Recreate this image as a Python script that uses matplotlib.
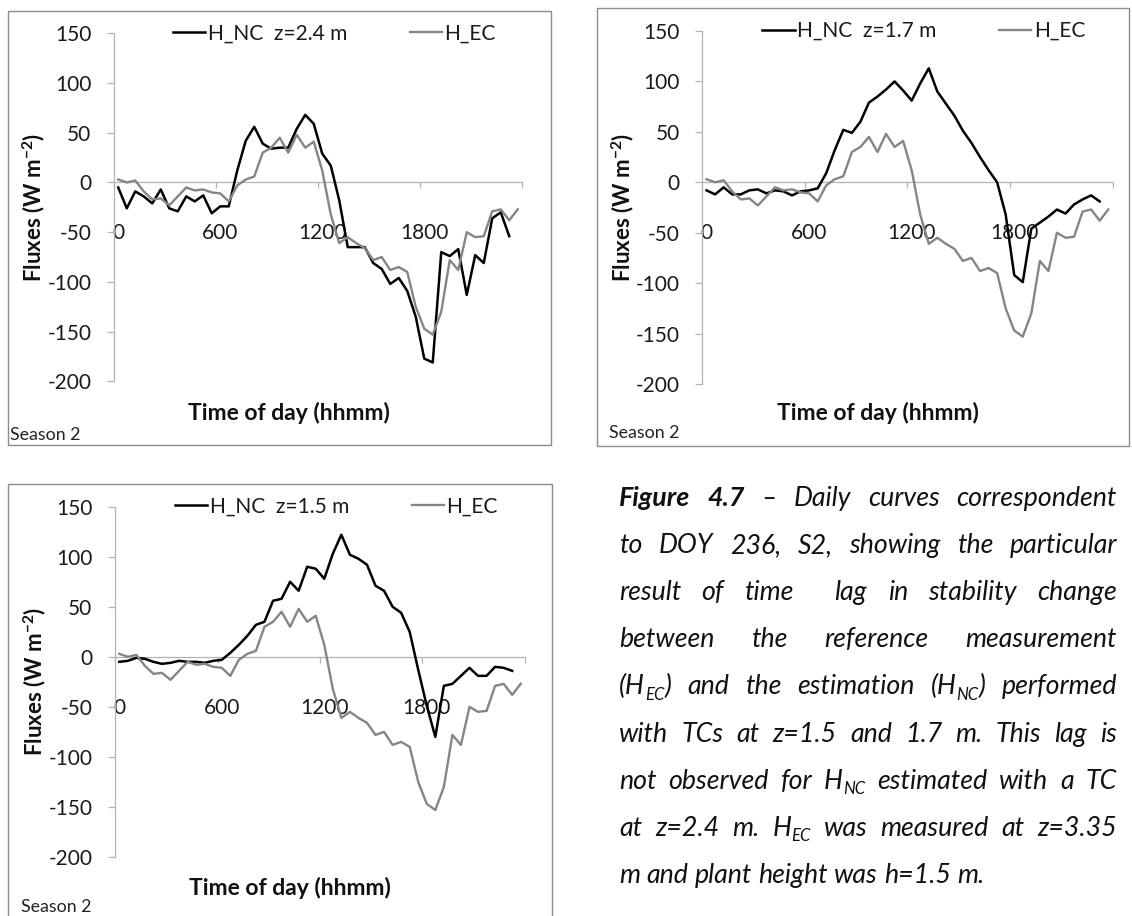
import re
import numpy as np
import matplotlib
matplotlib.use('Agg')
import matplotlib.pyplot as plt
from matplotlib.patches import Rectangle

plt.rcParams['font.family'] = ['Lato', 'DejaVu Sans']
plt.rcParams['mathtext.fontset'] = 'custom'
plt.rcParams['mathtext.rm'] = 'Lato'
plt.rcParams['mathtext.bf'] = 'Lato:bold'
plt.rcParams['mathtext.it'] = 'Lato:italic'
plt.rcParams['axes.unicode_minus'] = False

W, H = 1132, 916

# half-hourly time stamps (hhmm), DOY 236
hhmm = [0, 30, 100, 130, 200, 230, 300, 330, 400, 430, 500, 530,
        600, 630, 700, 730, 800, 830, 900, 930, 1000, 1030, 1100, 1130,
        1200, 1230, 1300, 1330, 1400, 1430, 1500, 1530, 1600, 1630, 1700, 1730,
        1800, 1830, 1900, 1930, 2000, 2030, 2100, 2130, 2200, 2230, 2300, 2330]

# eddy covariance reference (W m-2)
h_ec = [3, 0, 2, -9, -17, -16, -23, -14, -5, -8, -7, -10,
        -11, -19, -3, 3, 6, 30, 35, 45, 30, 48, 35, 41,
        12, -32, -61, -55, -61, -66, -78, -75, -88, -85, -90, -125,
        -147, -153, -130, -78, -88, -50, -55, -54, -29, -27, -38, -27]

# NC estimates with thermocouples at three heights (last half-hour missing)
h_nc_24 = [-5, -26, -9, -14, -21, -7, -26, -29, -14, -19, -13, -31,
           -24, -24, 12, 42, 56, 39, 34, 35, 35, 54, 68, 59,
           29, 17, -18, -65, -65, -65, -81, -87, -102, -96, -109, -135,
           -177, -181, -70, -74, -67, -113, -73, -81, -36, -30, -54]
h_nc_17 = [-8, -12, -5, -12, -12, -8, -7, -11, -8, -9, -13, -9,
           -8, -6, 9, 32, 52, 49, 60, 79, 85, 92, 100, 91,
           81, 98, 113, 90, 78, 66, 51, 39, 25, 12, 0, -32,
           -92, -99, -46, -40, -34, -27, -31, -22, -17, -13, -19]
h_nc_15 = [-5, -4, -1, -2, -5, -7, -6, -4, -5, -5, -6, -4,
           -3, 4, 12, 21, 32, 35, 56, 58, 75, 66, 90, 88,
           78, 103, 122, 102, 98, 92, 71, 66, 50, 44, 25, -13,
           -49, -80, -29, -27, -19, -11, -19, -19, -10, -11, -14]

y_ticks = [150, 100, 50, 0, -50, -100, -150, -200]

fig = plt.figure(figsize=(W / 100, H / 100), dpi=100)


def fx(x):
    return x / W


def fy(y):
    return 1 - y / H


def panel(ax_box, frame_box, nc, nc_label, season_xy, xlab_xy, ylab_x):
    l, t, r, b = ax_box
    ax = fig.add_axes([fx(l), fy(b), (r - l) / W, (b - t) / H])
    x = np.arange(len(hhmm))
    ax.plot(x[:len(nc)], nc, color='black', lw=1.8, label=nc_label, zorder=3)
    ax.plot(x, h_ec, color='#858585', lw=1.7, label='H_EC', zorder=3)

    ax.set_xlim(-0.5, len(hhmm) - 0.5)
    ax.set_ylim(-200, 150)
    for s in ['top', 'right']:
        ax.spines[s].set_visible(False)
    ax.spines['bottom'].set_position(('data', 0))
    for s in ['left', 'bottom']:
        ax.spines[s].set_color('#b4b4b4')
        ax.spines[s].set_linewidth(0.9)

    major = [i for i, v in enumerate(hhmm) if v % 600 == 0]
    ax.set_xticks(major)
    ax.set_xticklabels([str(hhmm[i]) for i in major])
    ax.set_xticks([i - 0.5 for i in major] + [len(hhmm) - 0.5], minor=True)
    ax.tick_params(axis='x', which='major', length=0, pad=29.5,
                   labelsize=15, labelcolor='#1a1a1a')
    ax.tick_params(axis='x', which='minor', direction='out', length=4,
                   color='#b4b4b4', width=0.9)
    ax.set_yticks(y_ticks)
    ax.tick_params(axis='y', direction='out', length=5.3, color='#b4b4b4',
                   width=0.9, pad=11, labelsize=15, labelcolor='#1a1a1a')

    ax.legend(ncol=2, loc='center', bbox_to_anchor=(0.54, 1.0), frameon=False,
              fontsize=15, handlelength=1.55, handletextpad=0.12,
              columnspacing=3.0, labelcolor='#1a1a1a',
              borderpad=0, borderaxespad=0)

    fl, ft, fr, fb = frame_box
    fig.add_artist(Rectangle((fx(fl), fy(fb)), (fr - fl) / W, (fb - ft) / H,
                             transform=fig.transFigure, fill=False,
                             edgecolor='#8c8c8c', lw=1.0))
    fig.text(fx(xlab_xy[0]), fy(xlab_xy[1]), 'Time of day (hhmm)',
             ha='center', va='center', fontsize=16.5, fontweight='bold',
             color='#111111')
    fig.text(fx(ylab_x), fy((t + b) / 2), r'Fluxes (W m$^{\mathbf{-2}}$)',
             ha='center', va='center', rotation=90, fontsize=16,
             fontweight='bold', color='#111111')
    fig.text(fx(season_xy[0]), fy(season_xy[1]), 'Season 2',
             ha='left', va='center', fontsize=12.8, color='#222222')
    return ax


panel((114, 33.3, 522, 381.4), (7.5, 10.7, 551, 445), h_nc_24,
      'H_NC  z=2.4 m', (10.5, 435), (289, 413), 34)
panel((702.3, 31, 1112.5, 384), (597, 8.3, 1129, 445.7), h_nc_17,
      'H_NC  z=1.7 m', (609, 433), (878, 413), 623)
panel((115, 506.7, 525, 857), (7.5, 484, 552.3, 940), h_nc_15,
      'H_NC  z=1.5 m', (21, 907), (290, 888), 35)

# caption, fully justified like the thesis text
caption = [
    "**Figure** **4.7** – Daily curves correspondent",
    "to DOY 236, S2, showing the particular",
    "result of time  lag in stability change",
    "between the reference measurement",
    "(H_{EC}) and the estimation (H_{NC}) performed",
    "with TCs at z=1.5 and 1.7 m. This lag is",
    "not observed for H_{NC} estimated with a TC",
    "at z=2.4 m. H_{EC} was measured at z=3.35",
    "m and plant height was h=1.5 m.",
]
cap_size = 19.3
cap_x0, cap_x1 = 619, 1117
cap_y0, cap_dy = 496, 47.2

renderer = fig.canvas.get_renderer()


def word_texts(word, y):
    bold = word.startswith('**') and word.endswith('**') and len(word) > 4
    if bold:
        word = word[2:-2]
    arts = []
    for part in re.split(r'(_\{[^}]*\})', word):
        if not part:
            continue
        if part.startswith('_{'):
            t = fig.text(0, fy(y + 0.2 * cap_size * 100 / 72), part[2:-1],
                         fontsize=cap_size * 0.62, style='italic',
                         va='baseline', ha='left', color='#111111')
        else:
            t = fig.text(0, fy(y), part, fontsize=cap_size, style='italic',
                         fontweight='bold' if bold else 'normal',
                         va='baseline', ha='left', color='#111111')
        arts.append(t)
    return arts


def text_w(t):
    return t.get_window_extent(renderer=renderer).width


probe = fig.text(0, 0, 'a a', fontsize=cap_size, style='italic')
probe2 = fig.text(0, 0, 'aa', fontsize=cap_size, style='italic')
space_w = text_w(probe) - text_w(probe2)
probe.remove()
probe2.remove()

for k, line in enumerate(caption):
    base = cap_y0 + k * cap_dy + 0.36 * cap_size * 100 / 72
    words = [word_texts(w, base) for w in line.split(' ')]
    widths = [sum(text_w(t) for t in ws) for ws in words]
    if k < len(caption) - 1:
        gap = (cap_x1 - cap_x0 - sum(widths)) / (len(words) - 1)
    else:
        gap = space_w
    x = cap_x0
    for ws, wd in zip(words, widths):
        xx = x
        for t in ws:
            t.set_x(fx(xx))
            xx += text_w(t)
        x += wd + gap

fig.savefig('out.png', dpi=100)
